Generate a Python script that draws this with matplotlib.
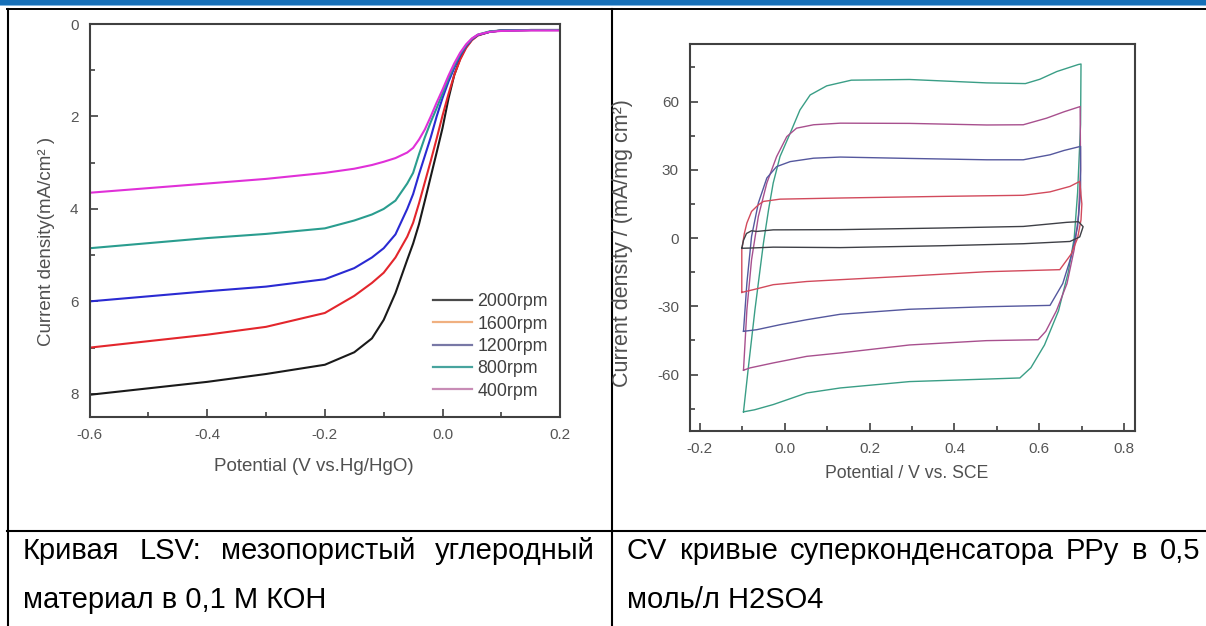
import matplotlib
matplotlib.use("Agg")
import matplotlib.pyplot as plt
from matplotlib.ticker import MultipleLocator
from matplotlib.patches import Rectangle
from matplotlib.lines import Line2D

plt.rcParams['font.family'] = ['Liberation Sans', 'DejaVu Sans']
plt.rcParams['axes.unicode_minus'] = False

# ---- LSV data (left panel) ----
potential = [-0.6, -0.5, -0.4, -0.3, -0.2, -0.15, -0.12, -0.1, -0.08, -0.06, -0.05, -0.04, -0.03,
             -0.02, -0.01, 0.0, 0.01, 0.02, 0.03, 0.04, 0.05, 0.06, 0.08, 0.1, 0.15, 0.2]
j_2000 = [8.02, 7.88, 7.74, 7.57, 7.37, 7.10, 6.80, 6.40, 5.82, 5.10, 4.75, 4.33, 3.82,
          3.30, 2.78, 2.25, 1.62, 1.10, 0.75, 0.50, 0.34, 0.24, 0.17, 0.14, 0.13, 0.13]
j_1600 = [7.00, 6.86, 6.72, 6.55, 6.25, 5.88, 5.60, 5.38, 5.05, 4.60, 4.30, 3.88, 3.42,
          2.96, 2.48, 1.98, 1.52, 1.10, 0.77, 0.52, 0.35, 0.25, 0.17, 0.14, 0.13, 0.13]
j_1200 = [6.00, 5.89, 5.78, 5.68, 5.52, 5.28, 5.05, 4.85, 4.55, 4.00, 3.68, 3.25, 2.85,
          2.45, 2.00, 1.60, 1.25, 0.95, 0.68, 0.48, 0.33, 0.24, 0.17, 0.14, 0.13, 0.13]
j_800 = [4.85, 4.74, 4.63, 4.54, 4.42, 4.25, 4.12, 4.00, 3.82, 3.45, 3.22, 2.82, 2.45,
         2.12, 1.82, 1.50, 1.18, 0.90, 0.65, 0.46, 0.32, 0.23, 0.16, 0.14, 0.13, 0.13]
j_400 = [3.65, 3.55, 3.45, 3.35, 3.22, 3.13, 3.05, 2.98, 2.90, 2.78, 2.68, 2.50, 2.28,
         2.00, 1.70, 1.42, 1.12, 0.85, 0.62, 0.44, 0.31, 0.23, 0.17, 0.15, 0.14, 0.14]
rpm_labels = ['2000rpm', '1600rpm', '1200rpm', '800rpm', '400rpm']
rpm_colors = ['#1a1a1a', '#e3262c', '#2a2ad2', '#2a9d8f', '#e030d8']
# the legend swatches in the source figure are washed out
legend_colors = ['#4a4a4a', '#f0b080', '#7878a6', '#48a49e', '#c88cb6']

# ---- CV loops (right panel), closed paths ----
cv1_x = [-0.097, -0.085, -0.070, -0.050, -0.038, -0.027, -0.011, 0.013, 0.036, 0.060, 0.099, 0.157,
         0.294, 0.476, 0.567, 0.601, 0.641, 0.692, 0.698, 0.697, 0.690, 0.682, 0.668, 0.645, 0.612,
         0.580, 0.554, 0.475, 0.294, 0.131, 0.052, -0.027, -0.071, -0.097]
cv1_y = [-76.4, -56.0, -31.5, -2.2, 12.4, 24.2, 35.8, 46.1, 56.3, 62.9, 66.9, 69.4,
         69.7, 68.2, 67.9, 69.8, 73.2, 76.3, 76.5, 50.0, 20.0, 0.0, -15.0, -32.0, -47.0,
         -57.0, -61.5, -62.0, -63.1, -65.9, -68.1, -73.2, -75.5, -76.4]
cv2_x = [-0.097, -0.089, -0.078, -0.062, -0.042, -0.019, 0.005, 0.028, 0.068, 0.131, 0.294, 0.476,
         0.562, 0.617, 0.658, 0.696, 0.697, 0.692, 0.682, 0.665, 0.640, 0.615, 0.597, 0.475, 0.294,
         0.131, 0.052, -0.027, -0.082, -0.097]
cv2_y = [-58.1, -31.5, -9.5, 9.5, 24.2, 35.8, 44.6, 48.3, 49.8, 50.5, 50.4, 49.7,
         49.8, 52.7, 55.5, 57.8, 30.0, 10.0, -5.0, -20.0, -32.0, -41.0, -44.7, -45.1, -47.0,
         -50.5, -52.0, -54.9, -57.1, -58.1]
cv3_x = [-0.097, -0.089, -0.078, -0.062, -0.042, -0.019, 0.013, 0.068, 0.131, 0.294, 0.476, 0.562,
         0.625, 0.658, 0.697, 0.697, 0.690, 0.675, 0.655, 0.625, 0.475, 0.294, 0.131, 0.052,
         -0.011, -0.066, -0.097]
cv3_y = [-41.0, -19.8, 0.7, 15.4, 26.4, 31.4, 33.6, 35.1, 35.6, 35.0, 34.4, 34.4,
         36.6, 38.5, 40.3, 20.0, 5.0, -8.0, -20.0, -29.6, -30.2, -31.3, -33.5, -35.9,
         -38.1, -40.3, -41.0]
cv4_x = [-0.101, -0.101, -0.095, -0.089, -0.078, -0.062, -0.050, -0.011, 0.131, 0.366, 0.562, 0.625,
         0.672, 0.695, 0.700, 0.698, 0.690, 0.675, 0.648, 0.476, 0.294, 0.131, 0.052, -0.027,
         -0.074, -0.101]
cv4_y = [-23.9, -5.1, 2.0, 6.6, 11.7, 14.6, 16.1, 17.1, 17.6, 18.3, 18.8, 20.3,
         22.7, 24.9, 15.0, 8.0, 0.0, -7.0, -13.9, -14.8, -16.7, -18.3, -19.1, -20.5,
         -22.7, -23.9]
cv5_x = [-0.101, -0.097, -0.090, -0.078, -0.066, -0.027, 0.131, 0.366, 0.562, 0.664, 0.692, 0.703,
         0.695, 0.672, 0.562, 0.366, 0.131, -0.027, -0.082, -0.101]
cv5_y = [-4.5, -1.0, 2.0, 3.2, 2.9, 3.6, 3.7, 4.4, 5.1, 6.9, 7.2, 5.0,
         0.5, -1.5, -2.5, -3.4, -4.2, -4.0, -4.4, -4.5]
cv_colors = ['#3a9e86', '#a8508e', '#55589e', '#d24a5c', '#3e4046']

caption_left_1 = ['Кривая', 'LSV:', 'мезопористый', 'углеродный']
caption_left_2 = 'материал в 0,1 М КОН'
caption_right_1 = ['CV', 'кривые', 'суперконденсатора', 'PPy', 'в', '0,5']
caption_right_2 = 'моль/л H2SO4'

W, H = 1206, 626
fig = plt.figure(figsize=(W / 100, H / 100), dpi=100)

# page / table overlay in pixel coordinates
page = fig.add_axes([0, 0, 1, 1])
page.set_xlim(0, W)
page.set_ylim(H, 0)
page.axis('off')
page.add_patch(Rectangle((0, 0), W, 4.8, color='#1770b8', lw=0))
page.add_patch(Rectangle((0, 4.8), W, 1.6, color='#7fb6e2', lw=0))
page.plot([7, W], [9, 9], color='black', lw=1.4)
page.plot([7.8, 7.8], [9, H], color='black', lw=1.5)
page.plot([611.9, 611.9], [9, H], color='black', lw=1.5)
page.plot([7, W], [531, 531], color='black', lw=1.5)

cap_font = dict(family=['Liberation Sans', 'DejaVu Sans'], fontsize=21, color='black', va='baseline')


def justified(words, x0, x1, y):
    texts = [page.text(x0, y, w, **cap_font) for w in words]
    r = fig.canvas.get_renderer()
    widths = [t.get_window_extent(r).width for t in texts]
    gap = (x1 - x0 - sum(widths)) / (len(words) - 1)
    x = x0
    for t, w in zip(texts, widths):
        t.set_x(x)
        x += w + gap


justified(caption_left_1, 23, 595, 559)
page.text(23, 608, caption_left_2, **cap_font)
justified(caption_right_1, 627, 1200, 559)
page.text(627, 608, caption_right_2, **cap_font)

spine_c = '#404040'
lab_c = '#505050'

# ---- left: LSV ----
ax1 = fig.add_axes([89.5 / W, 1 - 417 / H, 470.7 / W, 393 / H])
for j, lab, c in zip([j_2000, j_1600, j_1200, j_800, j_400], rpm_labels, rpm_colors):
    ax1.plot(potential, j, color=c, lw=1.5, label=lab)
ax1.set_xlim(-0.6, 0.2)
ax1.set_ylim(8.5, 0)
ax1.xaxis.set_major_locator(MultipleLocator(0.2))
ax1.xaxis.set_minor_locator(MultipleLocator(0.1))
ax1.yaxis.set_major_locator(MultipleLocator(2))
ax1.yaxis.set_minor_locator(MultipleLocator(1))
ax1.xaxis.set_major_formatter(plt.FormatStrFormatter('%.1f'))
ax1.set_xlabel('Potential (V vs.Hg/HgO)', fontsize=13.5, color=lab_c)
ax1.set_ylabel('Current density(mA/cm² )', fontsize=13.5, color=lab_c)
ax1.xaxis.set_label_coords(0.477, -0.127)
ax1.xaxis.label.set_va('center')
ax1.yaxis.set_label_coords(-0.092, 0.447)
ax1.yaxis.label.set_va('center')
handles = [Line2D([], [], color=c, lw=1.6) for c in legend_colors]
leg = ax1.legend(handles, rpm_labels, loc='center left',
                 bbox_to_anchor=(433 / W, 1 - 346.5 / H),
                 bbox_transform=fig.transFigure, frameon=False, fontsize=12.8,
                 handlelength=2.2, handletextpad=0.3, labelspacing=0.3, borderpad=0,
                 borderaxespad=0)
for t in leg.get_texts():
    t.set_color('#404040')

# ---- right: CV ----
ax2 = fig.add_axes([690 / W, 1 - 430.5 / H, 444.5 / W, 386.5 / H])
loops = [(cv1_x, cv1_y), (cv2_x, cv2_y), (cv3_x, cv3_y), (cv4_x, cv4_y), (cv5_x, cv5_y)]
for (xs, ys), c in zip(loops, cv_colors):
    ax2.plot(xs, ys, color=c, lw=1.0)
ax2.set_xlim(-0.223, 0.824)
ax2.set_ylim(-84.6, 85.3)
ax2.xaxis.set_major_locator(MultipleLocator(0.2))
ax2.xaxis.set_minor_locator(MultipleLocator(0.1))
ax2.yaxis.set_major_locator(MultipleLocator(30))
ax2.yaxis.set_minor_locator(MultipleLocator(15))
ax2.xaxis.set_major_formatter(plt.FormatStrFormatter('%.1f'))
ax2.set_xlabel('Potential / V vs. SCE', fontsize=12.7, color=lab_c)
ax2.set_ylabel('Current density / (mA/mg cm²)', fontsize=15.5, color=lab_c)
ax2.xaxis.set_label_coords(0.488, -0.11)
ax2.xaxis.label.set_va('center')
ax2.yaxis.set_label_coords(-0.152, 0.484)
ax2.yaxis.label.set_va('center')

for ax in (ax1, ax2):
    for s in ax.spines.values():
        s.set_color(spine_c)
        s.set_linewidth(1.5)
    ax.tick_params(which='both', direction='in', top=False, right=False,
                   colors=spine_c, labelcolor='#555555', labelsize=11, pad=8, width=1.2)
    ax.tick_params(which='major', length=5.5)
    ax.tick_params(which='minor', length=3.5)

fig.savefig('out.png', dpi=100)
